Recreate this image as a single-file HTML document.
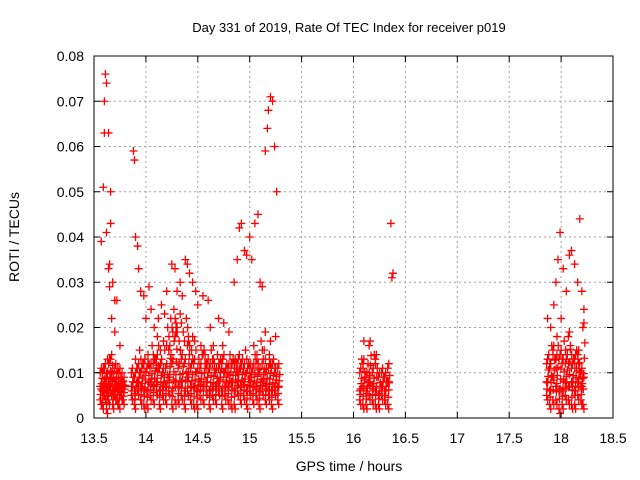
<!DOCTYPE html>
<html><head><meta charset="utf-8"><style>
body{margin:0;background:#fff}
svg{display:block;font-family:"Liberation Sans",sans-serif}
</style></head><body>
<svg id="c" width="640" height="480">
<rect width="640" height="480" fill="#fff"/>
<text x="349" y="32" font-size="13" text-anchor="middle">Day 331 of 2019, Rate Of TEC Index for receiver p019</text>
<text x="349" y="471" font-size="14" text-anchor="middle">GPS time / hours</text>
<text transform="translate(19,237) rotate(-90)" font-size="14" text-anchor="middle">ROTI / TECUs</text>
<g id="grid"></g><g id="pts"></g><g id="axes"></g>
</svg>
<script>
const xTicks=[13.5,14,14.5,15,15.5,16,16.5,17,17.5,18,18.5];
const yTicks=[0,0.01,0.02,0.03,0.04,0.05,0.06,0.07,0.08];
const yTickLabels=["0","0.01","0.02","0.03","0.04","0.05","0.06","0.07","0.08"];
const bandTimes=[13.56,13.58,13.6,13.62,13.64,13.66,13.68,13.7,13.72,13.74,13.76,13.78,
13.86,13.89,13.92,13.95,13.98,14.01,14.04,14.07,14.1,14.13,14.16,14.19,14.22,14.25,14.28,14.31,14.34,14.37,14.4,14.43,14.46,14.49,14.52,14.55,14.58,14.61,14.64,14.67,14.7,14.73,14.76,14.79,14.82,14.85,14.88,14.91,14.94,14.97,15.0,15.03,15.06,15.09,15.12,15.15,15.18,15.21,15.24,15.27,
16.06,16.09,16.12,16.15,16.18,16.21,16.24,16.27,16.3,16.33,
17.86,17.89,17.92,17.95,17.98,18.01,18.04,18.07,18.1,18.13,18.16,18.19,18.21];
const bandLow=[.004,.003,.005,.002,.004,.006,.003,.005,.004,.003,.005,.004,
.005,.003,.006,.004,.003,.003,.005,.004,.006,.003,.005,.004,.006,.003,.004,.004,.005,.003,.006,.004,.003,.003,.005,.004,.006,.003,.005,.004,.006,.003,.005,.004,.003,.003,.006,.004,.005,.003,.006,.004,.005,.003,.006,.004,.005,.003,.006,.004,
.004,.003,.003,.005,.004,.003,.003,.005,.004,.003,
.005,.003,.004,.004,.002,.003,.005,.004,.003,.003,.005,.004,.003];
const bandMid=[.007,.006,.008,.006,.007,.009,.006,.008,.007,.006,.008,.007,
.007,.006,.008,.007,.006,.006,.008,.007,.008,.006,.007,.007,.009,.006,.008,.007,.008,.006,.009,.007,.007,.006,.008,.007,.008,.006,.007,.007,.008,.006,.007,.007,.008,.006,.008,.007,.008,.006,.008,.007,.007,.006,.008,.007,.006,.006,.007,.007,
.006,.007,.006,.008,.007,.006,.005,.007,.006,.008,
.008,.006,.009,.007,.006,.006,.008,.007,.008,.006,.008,.007,.009];
const bandHigh=[.010,.010,.011,.009,.012,.013,.008,.011,.010,.010,.009,.008,
.010,.009,.011,.010,.012,.011,.011,.012,.013,.011,.010,.011,.015,.012,.018,.011,.013,.012,.016,.011,.012,.010,.011,.014,.011,.011,.012,.010,.011,.012,.010,.011,.011,.012,.012,.011,.011,.010,.011,.011,.012,.010,.012,.010,.011,.011,.010,.011,
.010,.012,.009,.016,.010,.013,.009,.010,.009,.011,
.012,.011,.015,.013,.013,.012,.012,.018,.011,.013,.014,.010,.020];
const midTimes=[13.9,13.94,13.97,14.02,14.06,14.09,14.11,14.14,14.17,14.21,14.23,14.24,14.26,14.27,14.29,14.32,14.33,14.36,14.39,14.41,14.44,14.47,14.51,14.53,14.57,14.6,14.63,14.66,14.69,14.72,14.74,14.78,14.81,14.84,14.87,14.9,14.93,14.96,14.99,15.04,15.07,15.11,15.14,15.19,15.23,
17.88,17.91,17.94,17.96,18.0,18.03,18.06,18.09,18.12,18.15,18.17,16.08,16.14,16.2];
const midVals=[.013,.015,.012,.014,.016,.013,.018,.015,.017,.020,.016,.022,.019,.024,.021,.017,.023,.019,.022,.018,.015,.017,.013,.016,.014,.013,.015,.012,.014,.013,.016,.012,.014,.013,.012,.014,.013,.015,.012,.016,.014,.017,.015,.014,.013,
.014,.016,.013,.018,.015,.017,.014,.016,.013,.015,.012,.013,.012,.014];
const outTimes=[13.57,13.59,13.6,13.61,13.62,13.6,13.64,13.66,13.65,13.64,13.66,13.68,13.7,13.72,13.67,13.63,13.62,13.65,13.7,13.75,
13.88,13.89,13.9,13.92,13.93,13.95,13.98,14.0,14.03,14.05,14.08,14.12,14.15,14.18,14.2,14.25,14.28,14.3,14.33,14.35,14.38,14.4,14.42,14.45,14.48,14.5,14.55,14.6,14.62,14.7,14.75,14.8,14.85,14.88,14.9,14.92,14.95,14.97,15.0,15.02,15.05,15.08,15.1,15.12,15.15,15.17,15.18,15.2,15.22,15.24,15.26,15.15,15.2,15.25,14.65,14.45,14.3,14.2,
16.36,16.37,16.38,16.1,
17.87,17.9,17.93,17.95,17.97,17.99,18.02,18.05,18.08,18.1,18.13,18.16,18.18,18.2,18.22,18.0];
const outVals=[.039,.051,.070,.076,.074,.063,.063,.050,.034,.033,.043,.030,.026,.026,.022,.013,.041,.029,.019,.016,
.059,.057,.040,.038,.033,.028,.027,.022,.029,.024,.020,.022,.025,.023,.028,.034,.033,.028,.030,.027,.035,.034,.032,.030,.028,.025,.027,.026,.020,.022,.021,.019,.030,.035,.042,.043,.037,.036,.040,.035,.043,.045,.030,.029,.059,.064,.068,.071,.070,.060,.050,.019,.017,.018,.016,.018,.020,.016,
.043,.031,.032,.017,
.022,.020,.025,.030,.035,.041,.033,.028,.036,.037,.034,.030,.044,.028,.024,.022];

const X0=94,X1=613,Y0=418,Y1=56;
const xs=t=>X0+(t-13.5)/5*(X1-X0);
const ys=v=>Y0-v/0.08*(Y0-Y1);
const NS="http://www.w3.org/2000/svg";
function mk(tag,at,parent){const e=document.createElementNS(NS,tag);for(const k in at)e.setAttribute(k,at[k]);parent.appendChild(e);return e;}
const grid=document.getElementById('grid'),axes=document.getElementById('axes'),pts=document.getElementById('pts');
xTicks.forEach((t,i)=>{
  if(i>0&&i<xTicks.length-1){const g=mk('line',{x1:xs(t),x2:xs(t),y1:Y0,y2:Y1,stroke:'#a0a0a0','stroke-dasharray':'2,3'},grid);
  
  }
  mk('line',{x1:xs(t),x2:xs(t),y1:Y0,y2:Y0-6,stroke:'#000'},axes);
  mk('line',{x1:xs(t),x2:xs(t),y1:Y1,y2:Y1+6,stroke:'#000'},axes);
  const l=mk('text',{x:xs(t),y:443,'font-size':14,'text-anchor':'middle'},axes);l.textContent=String(t);
  
  
});
yTicks.forEach((v,i)=>{
  if(i>0&&i<yTicks.length-1){const g=mk('line',{x1:X0,x2:X1,y1:ys(v),y2:ys(v),stroke:'#a0a0a0','stroke-dasharray':'2,3'},grid);
  
  }
  mk('line',{x1:X0,x2:X0+6,y1:ys(v),y2:ys(v),stroke:'#000'},axes);
  mk('line',{x1:X1,x2:X1-6,y1:ys(v),y2:ys(v),stroke:'#000'},axes);
  const l=mk('text',{x:84,y:ys(v)+5,'font-size':14,'text-anchor':'end'},axes);l.textContent=yTickLabels[i];
  
  
});
const fr=mk('rect',{x:X0,y:Y1,width:X1-X0,height:Y0-Y1,fill:'none',stroke:'#000'},axes);


let d='';
function cross(t,v){const x=xs(t),y=ys(v);d+=`M${x-4} ${y}h8M${x} ${y-4}v8`;}
bandTimes.forEach((t,i)=>{
  [bandLow[i],bandMid[i],bandHigh[i]].forEach((v,j)=>{cross(t,v);cross(t+0.01,v+0.001*(j-1));});
  for(let k=0;k<4;k++)cross(t+0.004+k*0.005,bandLow[i]+(bandHigh[i]-bandLow[i])*(k+1)/5);
});
midTimes.forEach((t,i)=>{cross(t,midVals[i]);cross(t+0.012,midVals[i]-0.002);});
outTimes.forEach((t,i)=>cross(t,outVals[i]));
const p=mk('path',{d:d,stroke:'#f00','stroke-width':1.3,fill:'none'},pts);


</script>
</body></html>
